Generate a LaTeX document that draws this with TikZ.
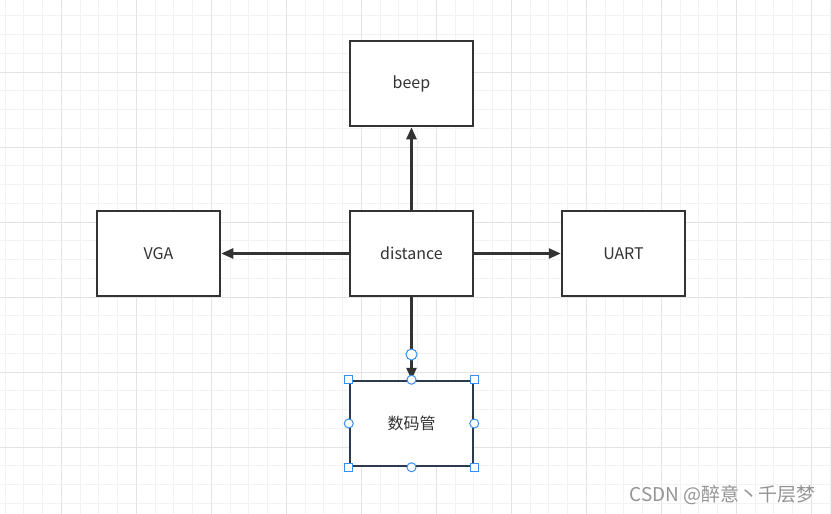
\documentclass[tikz,border=0pt]{standalone}
\usepackage{fontspec}
\setmainfont{Noto Sans CJK SC}
\usetikzlibrary{arrows.meta}
\definecolor{minorgrid}{HTML}{F2F2F2}
\definecolor{majorgrid}{HTML}{E3E3E3}
\definecolor{ink}{HTML}{333333}
\definecolor{selink}{HTML}{2B3A4C}
\definecolor{handle}{HTML}{3A8EF0}
\tikzset{
  box/.style={draw=ink, line width=2.5pt, fill=white, minimum width=123pt, minimum height=85pt, inner sep=0pt, font=\fontsize{16}{18}\selectfont, text=ink},
  conn/.style={draw=ink, line width=2.5pt, -{Triangle[length=12pt,width=10pt]}},
  sqhandle/.style={draw=handle, fill=white, line width=1pt, minimum size=8pt, inner sep=0pt, rectangle},
  cihandle/.style={draw=handle, fill=white, line width=1pt, minimum size=9pt, inner sep=0pt, circle},
}
\begin{document}
\begin{tikzpicture}[x=1pt,y=-1pt]
\useasboundingbox (0,0) rectangle (831,514);
\fill[white] (0,0) rectangle (831,514);
\foreach \i in {0,...,44} { \draw[minorgrid, line width=1pt] ({5+18.75*\i},0) -- ++(0,514); }
\foreach \j in {0,...,28} { \draw[minorgrid, line width=1pt] (0,{-3+18.75*\j}) -- ++(831,0); }
\foreach \i in {0,...,10} { \draw[majorgrid, line width=1pt] ({61.25+75*\i},0) -- ++(0,514); }
\foreach \j in {1,...,7} { \draw[majorgrid, line width=1pt] (0,{-3+75*\j}) -- ++(831,0); }

\node[box] (beep) at (411.5,83.5) {beep};
\node[box] (vga) at (158.5,253.5) {VGA};
\node[box] (dist) at (411.5,253.5) {distance};
\node[box] (uart) at (623.5,253.5) {UART};
\node[box, draw=selink] (seg) at (411.5,423.5) {数码管};

\draw[conn] (dist.north) -- (beep.south);
\draw[conn] (dist.west) -- (vga.east);
\draw[conn] (dist.east) -- (uart.west);
\draw[conn] (dist.south) -- (seg.north);

\coordinate (h) at (411.5,354.5);
\node[cihandle, minimum size=11pt] at (h) {};
\foreach \a in {north west, north east, south west, south east} { \node[sqhandle] at (seg.\a) {}; }
\foreach \a in {north, south, west, east} { \node[cihandle] at (seg.\a) {}; }

\node[anchor=east, text=black!42, font=\fontsize{19}{21}\selectfont, inner sep=0pt] (wm) at (816,495) {CSDN @醉意丶千层梦};
\end{tikzpicture}
\end{document}
